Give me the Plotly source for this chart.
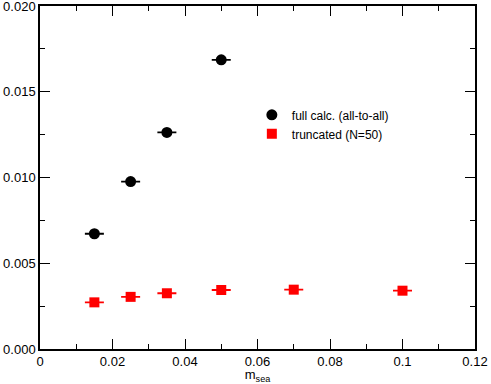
import plotly.graph_objects as go

# sea quark masses
m_full = [0.015, 0.025, 0.035, 0.05]
val_full = [0.00672, 0.00976, 0.01263, 0.01686]
err_full = [0.00001, 0.00001, 0.00001, 0.00001]

m_trunc = [0.015, 0.025, 0.035, 0.05, 0.07, 0.1]
val_trunc = [0.00272, 0.00304, 0.00325, 0.00344, 0.00346, 0.00340]
err_trunc = [0.00001, 0.00001, 0.00001, 0.00001, 0.00001, 0.00001]

x_ticks = [0, 0.02, 0.04, 0.06, 0.08, 0.1, 0.12]
x_labels = ["0", "0.02", "0.04", "0.06", "0.08", "0.1", "0.12"]
y_ticks = [0, 0.005, 0.01, 0.015, 0.02]
y_labels = ["0.000", "0.005", "0.010", "0.015", "0.020"]

fig = go.Figure()
fig.add_trace(go.Scatter(
    x=m_full, y=val_full, mode="markers",
    name="full calc. (all-to-all)",
    marker=dict(symbol="circle", size=11, color="black"),
    error_y=dict(type="data", array=err_full, color="black", thickness=1.5, width=9.5),
))
fig.add_trace(go.Scatter(
    x=m_trunc, y=val_trunc, mode="markers",
    name="truncated (N=50)",
    marker=dict(symbol="square", size=10, color="red"),
    error_y=dict(type="data", array=err_trunc, color="red", thickness=1.5, width=9.5),
))

axis_style = dict(
    showgrid=False, zeroline=False, showline=True, linecolor="black", linewidth=1.5,
    mirror="ticks", ticks="inside", ticklen=10, tickwidth=1.2, tickcolor="black",
    tickfont=dict(size=13, color="black"), automargin=False,
    ticklabeloverflow="allow",
)

fig.update_xaxes(
    range=[0, 0.12], tickvals=x_ticks, ticktext=x_labels,
    minor=dict(ticks="inside", dtick=0.01, ticklen=5, tickwidth=1.2, tickcolor="black"),
    title=dict(text="m<sub>sea</sub>", font=dict(size=13, color="black"), standoff=1),
    **axis_style,
)
fig.update_yaxes(
    range=[0, 0.02], tickvals=y_ticks, ticktext=y_labels,
    minor=dict(ticks="inside", dtick=0.0025, ticklen=5, tickwidth=1.2, tickcolor="black"),
    **axis_style,
)

fig.update_layout(
    width=491, height=384,
    margin=dict(l=40, r=16, t=6, b=35),
    plot_bgcolor="white", paper_bgcolor="white",
    font=dict(family="Liberation Sans, Arial, sans-serif", color="black"),
    legend=dict(x=0.487, y=0.725, xanchor="left", yanchor="top",
                font=dict(size=12), bgcolor="rgba(0,0,0,0)",
                itemwidth=30, tracegroupgap=0),
)

fig.write_html("out.html", config={"displayModeBar": False},
               post_script="document.body.style.margin='0';")
